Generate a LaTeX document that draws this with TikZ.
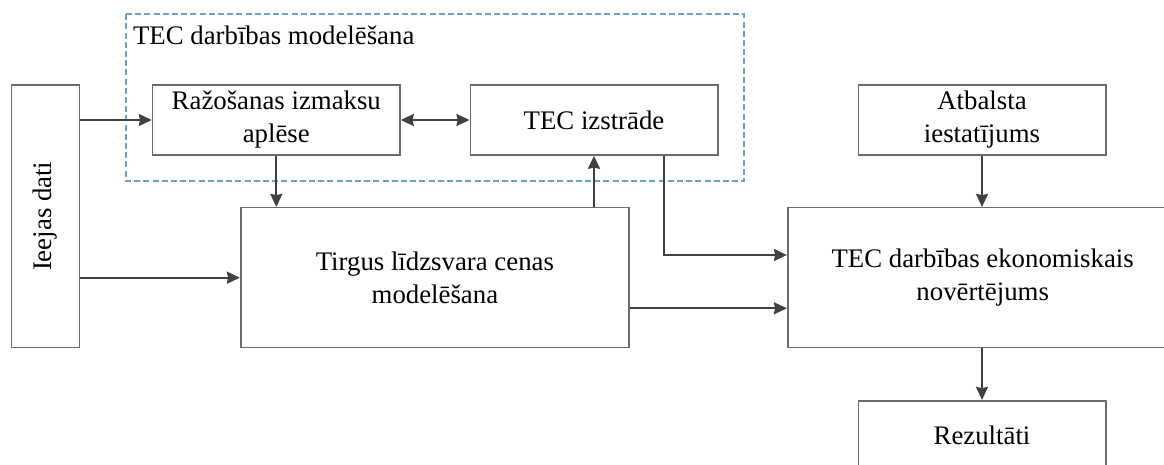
\documentclass[tikz,border=0pt]{standalone}
\usepackage{fontspec}
\setmainfont{Liberation Serif}
\usetikzlibrary{arrows.meta}

\definecolor{edgegray}{HTML}{6B6B6B}
\definecolor{linegray}{HTML}{404040}
\definecolor{groupblue}{HTML}{6C9FCB}

\begin{document}
\begin{tikzpicture}[x=0.5pt, y=-0.5pt,
    every node/.style={font=\fontsize{13.4}{16.5}\selectfont, align=center, inner sep=0pt},
    box/.style={draw=edgegray, line width=0.8pt},
    conn/.style={draw=linegray, line width=1pt, -{Stealth[length=6.5pt, width=6pt, inset=0.6pt]}},
    group/.style={draw=groupblue, line width=1pt, dash pattern=on 3pt off 1.6pt}]
  \clip (0,0) rectangle (1164,465);
  % dashed group round the two upper blocks
  \draw[group] (126,14.3) rectangle (744.3,181);
  \node[anchor=base west] (grouplbl) at (132.7,45) {TEC darbības modelēšana};

  \node[box, minimum width=34pt, minimum height=131.3pt] (ieejas) at (45.5,216.3) {\rotatebox{90}{Ieejas dati}};
  \node[box, minimum width=123.7pt, minimum height=35pt] (razos) at (276.3,120) {Ražošanas izmaksu\\aplēse};
  \node[box, minimum width=123.7pt, minimum height=35pt] (izstrade) at (594,120) {TEC izstrāde};
  \node[box, minimum width=123.7pt, minimum height=35pt] (atbalsta) at (982,120) {Atbalsta\\iestatījums};
  \node[box, minimum width=194.2pt, minimum height=70pt] (tirgus) at (434.9,277.7) {Tirgus līdzsvara cenas\\modelēšana};
  \node[box, minimum width=195pt, minimum height=70pt] (ekon) at (982.7,277.7) {TEC darbības ekonomiskais\\novērtējums};
  \node[box, minimum width=123.7pt, minimum height=35pt] (rez) at (982,435.7) {Rezultāti};

  \draw[conn] (ieejas.east |- razos.west) -- (razos.west);
  \draw[conn] (ieejas.east |- tirgus.west) -- (tirgus.west);
  \draw[conn, {Stealth[length=6.5pt, width=6pt, inset=0.6pt]}-{Stealth[length=6.5pt, width=6pt, inset=0.6pt]}] (razos.east) -- (izstrade.west);
  \draw[conn] (razos.south) -- (razos.south |- tirgus.north);
  \draw[conn] (tirgus.north -| izstrade.south) -- (izstrade.south);
  \draw[conn] (izstrade.south -| 664.3,0) |- (ekon.west |- 0,255);
  \draw[conn] (tirgus.east |- 0,308.3) -- (ekon.west |- 0,308.3);
  \draw[conn] (atbalsta.south) -- (atbalsta.south |- ekon.north);
  \draw[conn] (ekon.south -| rez.north) -- (rez.north);
\end{tikzpicture}
\end{document}
